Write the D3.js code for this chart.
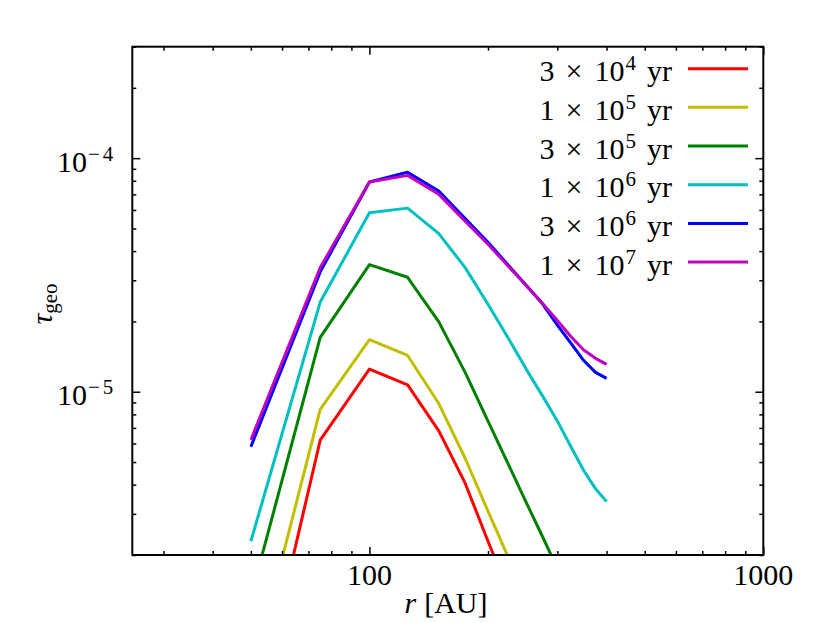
<!DOCTYPE html>
<html>
<head>
<meta charset="utf-8">
<script src="https://cdn.jsdelivr.net/npm/d3@7"></script>
<style>
  body { margin: 0; background: #fff; }
</style>
</head>
<body>
<svg id="chart" width="830" height="623"></svg>
<script>
// radius grid [AU]
const radius = [50, 75, 100, 125, 150, 175, 200, 225, 250, 275, 300, 325, 350, 375, 400];

// tau_geo for each age (null = off the grid / not drawn)
const tau3e4 = [3.3e-7, 6.2e-6, 1.25e-5, 1.07e-5, 6.8e-6, 4.06e-6, 2.29e-6, 1.4e-6, null, null, null, null, null, null, null];
const tau1e5 = [5.8e-7, 8.4e-6, 1.67e-5, 1.43e-5, 8.9e-6, 5.19e-6, 3.08e-6, 1.96e-6, 1.3e-6, null, null, null, null, null, null];
const tau3e5 = [1.32e-6, 1.71e-5, 3.5e-5, 3.09e-5, 1.99e-5, 1.21e-5, 7.48e-6, 4.91e-6, 3.36e-6, 2.4e-6, 1.75e-6, null, null, null, null];
const tau1e6 = [2.29e-6, 2.42e-5, 5.84e-5, 6.11e-5, 4.75e-5, 3.4e-5, 2.37e-5, 1.7e-5, 1.25e-5, 9.6e-6, 7.5e-6, 5.8e-6, 4.6e-6, 3.84e-6, 3.39e-6];
const tau3e6 = [5.81e-6, 3.26e-5, 7.9e-5, 8.71e-5, 7.23e-5, 5.51e-5, 4.36e-5, 3.49e-5, 2.86e-5, 2.38e-5, 1.93e-5, 1.61e-5, 1.36e-5, 1.21e-5, 1.14e-5];
const tau1e7 = [6.22e-6, 3.4e-5, 7.9e-5, 8.44e-5, 7.0e-5, 5.37e-5, 4.28e-5, 3.45e-5, 2.85e-5, 2.39e-5, 2.02e-5, 1.72e-5, 1.51e-5, 1.39e-5, 1.31e-5];

const ageMantissa = [3, 1, 3, 1, 3, 1];
const ageExponent = [4, 5, 5, 6, 6, 7];
const seriesColors = ['#ff0000', '#bfbf00', '#008000', '#00bfbf', '#0000ff', '#bf00bf'];
const allSeries = [tau3e4, tau1e5, tau3e5, tau1e6, tau3e6, tau1e7];

const xMajor = [100, 1000];
const xMinor = [30, 40, 50, 60, 70, 80, 90, 200, 300, 400, 500, 600, 700, 800, 900];
const yMajor = [1e-5, 1e-4];
const yMinor = [2e-6, 3e-6, 4e-6, 5e-6, 6e-6, 7e-6, 8e-6, 9e-6,
  2e-5, 3e-5, 4e-5, 5e-5, 6e-5, 7e-5, 8e-5, 9e-5, 2e-4, 3e-4];

const serif = '"Liberation Serif"';
const fontSize = 30;
const margin = { top: 46.7, left: 132.3 };
const plotWidth = 631;
const plotHeight = 508.3;

const svg = d3.select('#chart');
const chart = svg.append('g').attr('transform', `translate(${margin.left},${margin.top})`);

const x = d3.scaleLog().domain([25, 1000]).range([0, plotWidth]);
const y = d3.scaleLog().domain([2e-6, 3e-4]).range([plotHeight, 0]);

svg.append('defs').append('clipPath').attr('id', 'plot-clip')
  .append('rect').attr('width', plotWidth).attr('height', plotHeight);

// curves
const line = d3.line()
  .defined((d) => d.v != null)
  .x((d) => x(d.r))
  .y((d) => y(d.v));

chart.append('g').attr('clip-path', 'url(#plot-clip)')
  .selectAll('path')
  .data(allSeries)
  .join('path')
  .attr('fill', 'none')
  .attr('stroke', (d, i) => seriesColors[i])
  .attr('stroke-width', 3)
  .attr('stroke-linejoin', 'round')
  .attr('d', (vals) => line(vals.map((v, i) => ({ r: radius[i], v }))));

// ticks on all four sides, pointing inwards
function ticks(axisFn, values, size, transform) {
  const g = chart.append('g')
    .attr('transform', transform)
    .call(axisFn.tickValues(values).tickSize(-size).tickFormat(''));
  g.select('.domain').remove();
  g.selectAll('line').attr('stroke-width', 1.5);
  g.selectAll('text').remove();
  return g;
}

ticks(d3.axisBottom(x), xMajor, 8, `translate(0,${plotHeight})`);
ticks(d3.axisBottom(x), xMinor, 4, `translate(0,${plotHeight})`);
ticks(d3.axisTop(x), xMajor, 8, 'translate(0,0)');
ticks(d3.axisTop(x), xMinor, 4, 'translate(0,0)');
ticks(d3.axisLeft(y), yMajor, 8, 'translate(0,0)');
ticks(d3.axisLeft(y), yMinor, 4, 'translate(0,0)');
ticks(d3.axisRight(y), yMajor, 8, `translate(${plotWidth},0)`);
ticks(d3.axisRight(y), yMinor, 4, `translate(${plotWidth},0)`);

chart.append('rect')
  .attr('width', plotWidth).attr('height', plotHeight)
  .attr('fill', 'none').attr('stroke', '#000').attr('stroke-width', 2);

// tick labels
chart.append('g').selectAll('text')
  .data(xMajor)
  .join('text')
  .attr('x', (d) => x(d))
  .attr('y', plotHeight + 30)
  .attr('text-anchor', 'middle')
  .style('font-family', serif)
  .attr('font-size', fontSize)
  .text((d) => d);

const yLabels = chart.append('g').selectAll('text')
  .data(yMajor)
  .join('text')
  .attr('x', -19)
  .attr('y', (d) => y(d) + 13.5)
  .attr('text-anchor', 'end')
  .style('font-family', serif)
  .attr('font-size', fontSize);
yLabels.append('tspan').text('10');
yLabels.append('tspan')
  .attr('dy', -11)
  .attr('dx', 1)
  .attr('font-size', 21)
  .text('\u2212');
yLabels.append('tspan')
  .attr('dx', 3)
  .attr('font-size', 21)
  .text((d) => Math.round(-Math.log10(d)));

// axis titles
svg.append('text')
  .attr('x', 446)
  .attr('y', 613)
  .attr('text-anchor', 'middle')
  .style('font-family', serif)
  .attr('font-size', fontSize)
  .call((t) => {
    t.append('tspan').attr('font-style', 'italic').text('r');
    t.append('tspan').attr('dx', 8).text('[AU]');
  });

svg.append('text')
  .attr('transform', 'translate(52,304) rotate(-90)')
  .attr('text-anchor', 'middle')
  .style('font-family', serif)
  .attr('font-size', fontSize)
  .call((t) => {
    t.append('tspan').attr('font-style', 'italic').text('\u03c4');
    t.append('tspan').attr('dy', 5).attr('font-size', 21).text('geo');
  });

// legend
const legend = svg.append('g');
const rows = legend.selectAll('g')
  .data(ageMantissa)
  .join('g')
  .attr('transform', (d, i) => `translate(0,${68.7 + i * 38.67})`);

rows.append('line')
  .attr('x1', 688).attr('x2', 748)
  .attr('stroke', (d, i) => seriesColors[i])
  .attr('stroke-width', 3);

const labels = rows.append('text')
  .attr('x', 672)
  .attr('y', 12.5)
  .attr('text-anchor', 'end')
  .style('font-family', serif)
  .attr('font-size', fontSize);
labels.append('tspan').text((d) => d);
labels.append('tspan').attr('dx', 11).text('\u00d7');
labels.append('tspan').attr('dx', 12).text('10');
labels.append('tspan').attr('dy', -11).attr('dx', 1).attr('font-size', 21).text((d, i) => ageExponent[i]);
labels.append('tspan').attr('dy', 11).attr('dx', 11).text('yr');
</script>
</body>
</html>
